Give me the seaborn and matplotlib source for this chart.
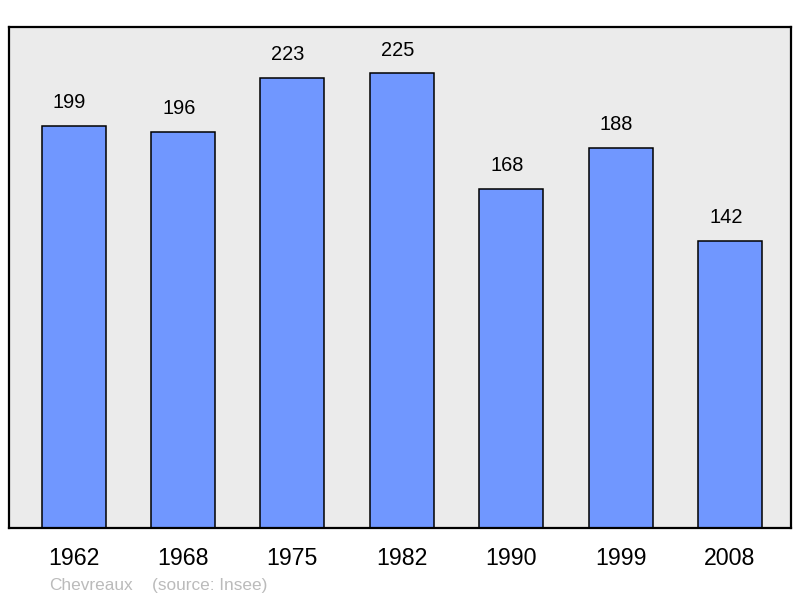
import matplotlib
matplotlib.use("Agg")
import matplotlib.pyplot as plt
import seaborn as sns
import pandas as pd

years = ["1962", "1968", "1975", "1982", "1990", "1999", "2008"]
population = [199, 196, 223, 225, 168, 188, 142]
place = "Chevreaux"
source = "(source: Insee)"

df = pd.DataFrame({"year": years, "population": population})

sns.set_theme(style="white")
plt.rcParams["font.family"] = ["Liberation Sans", "DejaVu Sans"]

fig = plt.figure(figsize=(8, 5.98), dpi=100)
ax = fig.add_axes([9 / 800, 70 / 598, 782 / 800, 501 / 598])
ax.set_facecolor("#ebebeb")

sns.barplot(data=df, x="year", y="population", ax=ax, color="#7097ff",
            saturation=1, width=0.585, edgecolor="black", linewidth=1.1)

# value labels sit a bit left of the bar centre, like the original
for i, v in enumerate(population):
    ax.annotate(str(v), (i, v), xytext=(-3, 10), textcoords="offset points",
                ha="center", va="bottom", fontsize=14.4, color="black")

ax.set_xlim(-0.59, 6.558)
ax.set_ylim(0, 248)
ax.set_xlabel("")
ax.set_ylabel("")
ax.set_yticks([])
ax.tick_params(axis="x", length=0, labelsize=16.7, pad=14, colors="black")
for s in ax.spines.values():
    s.set_visible(True)
    s.set_color("black")
    s.set_linewidth(1.6)

fig.text(49 / 800, 1 - 590 / 598, place, fontsize=12.4, color="#bbbbbb", va="baseline")
fig.text(152 / 800, 1 - 590 / 598, source, fontsize=12.4, color="#bbbbbb", va="baseline")

fig.savefig("out.png", dpi=100)
